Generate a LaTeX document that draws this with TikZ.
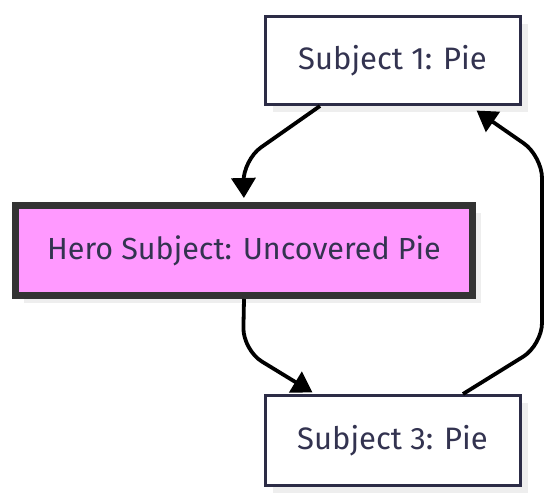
\documentclass[tikz,border=0pt]{standalone}
\usepackage{fontspec}
\setmainfont{Fira Sans}
\usetikzlibrary{arrows.meta,shadows}
\definecolor{navyborder}{HTML}{2C2C46}
\definecolor{heroborder}{HTML}{333333}
\definecolor{herofill}{HTML}{FF99FF}
\definecolor{txt}{HTML}{333350}
\definecolor{shade}{HTML}{EEEEEE}
\tikzset{
  box/.style={draw=navyborder, line width=3pt, fill=white, text=txt,
    minimum width=255pt, minimum height=88pt, inner sep=0pt,
    font=\fontsize{31}{36}\selectfont,
    general shadow={fill=shade, shadow xshift=8pt, shadow yshift=-8pt}},
  herobox/.style={draw=heroborder, line width=7pt, fill=herofill, text=txt,
    minimum width=457pt, minimum height=90pt, inner sep=0pt,
    font=\fontsize{30.5}{36}\selectfont,
    general shadow={fill=shade, shadow xshift=8pt, shadow yshift=-8pt}},
  edge/.style={draw=black, line width=3.8pt, rounded corners=22pt,
    -{Triangle[length=20pt,width=24pt]}}
}
\begin{document}
\begin{tikzpicture}[x=1pt,y=-1pt]
\useasboundingbox (0,0) rectangle (558,502);
\node[box] (s1) at (392.5,60.5) {Subject 1: Pie};
\node[herobox] (hero) at (244,250.5) {Hero Subject: Uncovered Pie};
\node[box, minimum height=90pt] (s3) at (392.5,440.5) {Subject 3: Pie};
\draw[edge, shorten >=4pt] ([xshift=-72.5pt]s1.south) -- (243,160) -- (hero.north);
\draw[edge, shorten >=3pt] (hero.south) -- (243,350) -- ([xshift=-77.5pt]s3.north);
\draw[edge, shorten >=8pt] ([xshift=70.5pt]s3.north) -- (542,345) -- (542,156) -- ([xshift=77.5pt]s1.south);
\end{tikzpicture}
\end{document}
